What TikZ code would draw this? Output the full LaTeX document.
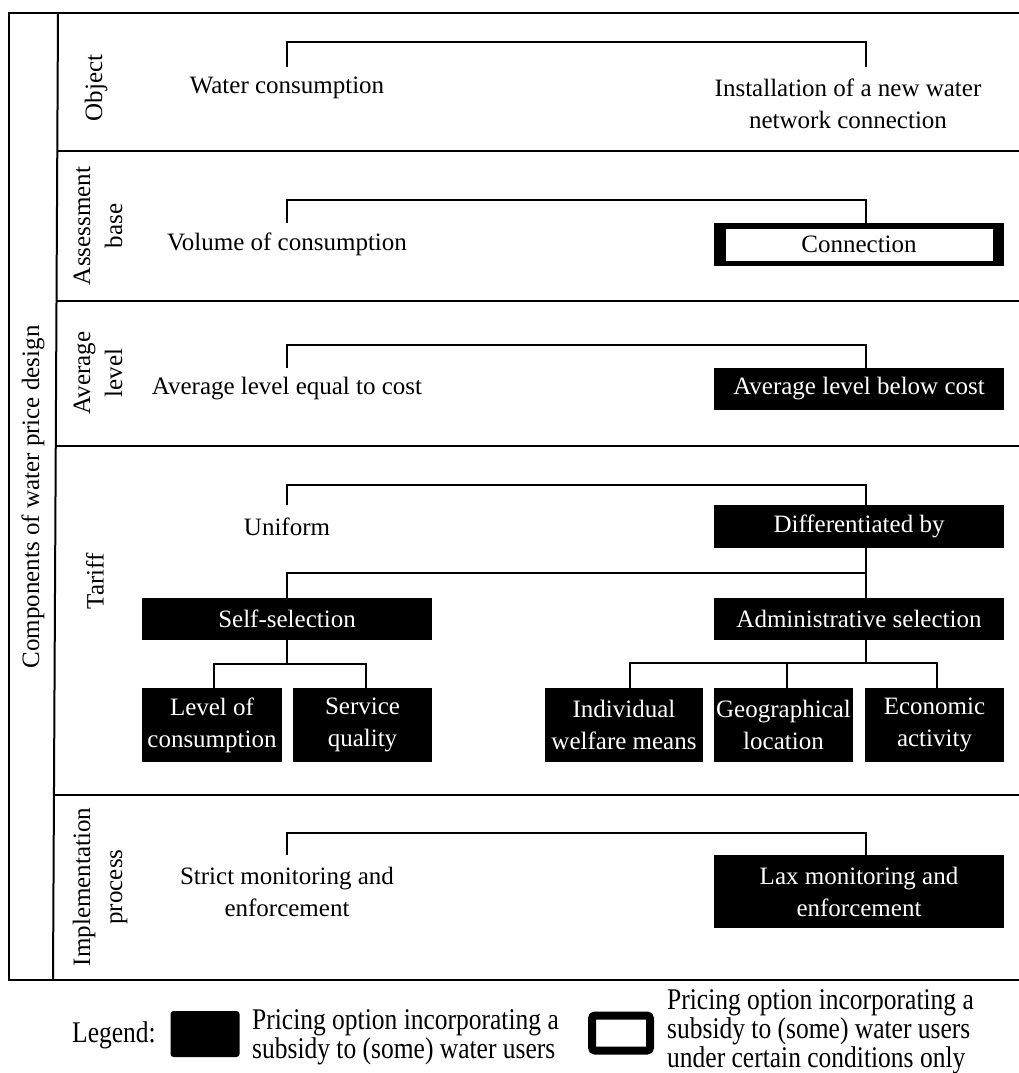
\documentclass[tikz,border=0pt]{standalone}
\usepackage{fontspec}
\setmainfont{Liberation Serif}
\newfontfamily\legendfont{Liberation Serif}[FakeStretch=0.85]
\begin{document}
\begin{tikzpicture}[x=1pt,y=-1pt,
  every node/.style={font=\fontsize{25}{32}\selectfont, inner sep=0pt, align=center},
  frame/.style={line width=2pt},
  link/.style={line width=2pt},
  opt/.style={minimum width=290pt, minimum height=42pt},
  sub/.style={opt, fill=black, text=white},
  cond/.style={opt, fill=black,
    path picture={\fill[white]
      ([xshift=12pt,yshift=5.5pt]path picture bounding box.south west) rectangle
      ([xshift=-11pt,yshift=-5.5pt]path picture bounding box.north east);}},
  leaf/.style={minimum width=139pt, minimum height=74pt, fill=black, text=white},
  rowlabel/.style={rotate=90},
  legtext/.style={font=\legendfont\fontsize{30}{29}\selectfont, align=left}
]
\useasboundingbox (0,0) rectangle (1019,1073);

% outer frame and row separators
\draw[frame] (1019,13) -- (9,13) -- (9,980) -- (1019,980);
\draw[frame] (58,13) -- (53,980);
\draw[frame] (57.3,151) -- (1019,151);
\draw[frame] (56.5,301) -- (1019,301);
\draw[frame] (55.8,446) -- (1019,446);
\draw[frame] (54.1,795) -- (1019,795);

% row headings
\node[rowlabel] (lall) at (33,497) {Components of water price design};
\node[rowlabel] (lobj) at (96,88) {Object};
\node[rowlabel] (lass) at (98,226) {Assessment\\base};
\node[rowlabel] (lavg) at (98,373) {Average\\level};
\node[rowlabel] (ltar) at (95,581) {Tariff};
\node[rowlabel] (limp) at (100,887) {Implementation\\process};

% object
\node[opt] (wc) at (287,88) {Water consumption};
\node[minimum width=290pt, minimum height=74pt] (inst) at (848,104) {Installation of a new water\\network connection};
\draw[link] (wc.north) -- ++(0,-25) -| ([xshift=18pt]inst.north);

% assessment base
\node[opt] (vol) at (287,244.5) {Volume of consumption};
\node[cond, minimum height=43pt] (con) at (859,244.5) {Connection};
\draw[link] (vol.north) -- ++(0,-23) -| ([xshift=7pt]con.north);

% average level
\node[opt] (eq) at (287,389) {Average level equal to cost};
\node[sub] (below) at (859,389) {Average level below cost};
\draw[link] (eq.north) -- ++(0,-23) -| ([xshift=7pt]below.north);

% tariff
\node[opt, minimum height=43pt] (uni) at (287,526.5) {Uniform};
\node[sub, minimum height=43pt] (diff) at (859,526.5) {Differentiated by};
\draw[link] (uni.north) -- ++(0,-20) -| ([xshift=7pt]diff.north);

\node[sub] (self) at (287,619) {Self-selection};
\node[sub] (adm) at (859,619) {Administrative selection};
\draw[link] ([xshift=7pt]diff.south) -- ([xshift=7pt]adm.north);
\draw[link] ([xshift=7pt]diff.south) -- ++(0,25) -| (self.north);

\node[leaf, minimum width=140pt] (lvl) at (212,725) {Level of\\consumption};
\node[leaf] (svc) at (362.5,725) {Service\\quality};
\draw[link] (self.south) -- ++(0,24) coordinate (sj);
\draw[link] ([xshift=2pt]lvl.north) |- (sj) -| ([xshift=3.5pt]svc.north);

\node[leaf, minimum width=158pt] (ind) at (624,725) {Individual\\welfare means};
\node[leaf] (geo) at (783.5,725) {Geographical\\location};
\node[leaf] (eco) at (934.5,725) {Economic\\activity};
\draw[link] ([xshift=7pt]adm.south) -- ++(0,23) coordinate (aj);
\draw[link] ([xshift=6pt]ind.north) |- (aj) -| ([xshift=2.5pt]eco.north);
\draw[link] ([xshift=3.5pt]geo.north) -- ++(0,-24);

% implementation process
\node[opt, minimum height=73pt] (strict) at (287,891.5) {Strict monitoring and\\enforcement};
\node[sub, minimum height=73pt] (lax) at (859,891.5) {Lax monitoring and\\enforcement};
\draw[link] (strict.north) -- ++(0,-22) -| ([xshift=7pt]lax.north);

% legend
\node[legtext] (leg) at (114,1035) {Legend:};
\node[fill=black, rounded corners=3pt, minimum width=69pt, minimum height=46pt] (lsub) at (205,1034) {};
\node[legtext, anchor=west] (lsubt) at (252,1037) {Pricing option incorporating a\\subsidy to (some) water users};
\node[draw=black, line width=8pt, rounded corners=3pt, minimum width=58pt, minimum height=35pt] (lcond) at (621,1033) {};
\node[legtext, anchor=west] (lcondt) at (667,1032) {Pricing option incorporating a\\subsidy to (some) water users\\under certain conditions only};
\end{tikzpicture}
\end{document}
